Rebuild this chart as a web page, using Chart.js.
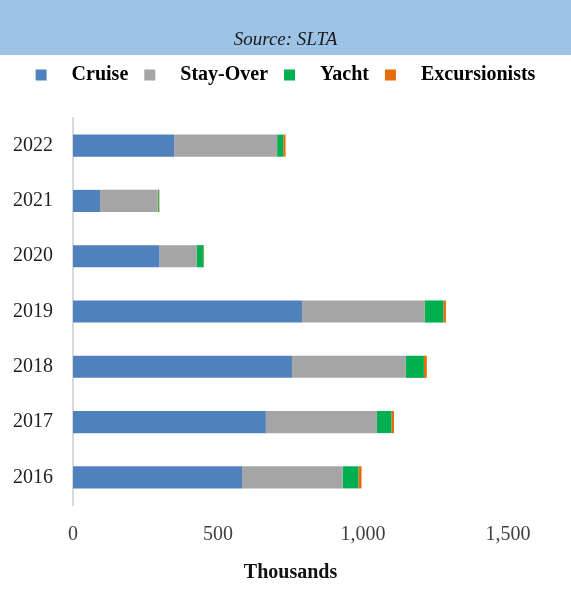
<!DOCTYPE html>
<html>
<head>
<meta charset="utf-8">
<style>
  html, body { margin: 0; padding: 0; background: #ffffff; }
  #wrap { width: 571px; height: 604px; }
</style>
<script src="https://cdn.jsdelivr.net/npm/chart.js@4/dist/chart.umd.min.js"></script>
</head>
<body>
<div id="wrap"><canvas id="c" width="571" height="604"></canvas></div>
<script>
// Visitor arrivals by year (thousands), stacked by visitor type
const years = ['2022', '2021', '2020', '2019', '2018', '2017', '2016'];
const cruise = [349, 93, 298, 790, 755, 665, 583];
const stayOver = [355, 199, 129, 422, 393, 383, 347];
const yacht = [21, 4, 23, 65, 62, 50, 54];
const excursionists = [8, 2, 2, 9, 10, 9, 11];
const seriesNames = ['Cruise', 'Stay-Over', 'Yacht', 'Excursionists'];
const seriesColors = ['#4F81BD', '#A5A5A5', '#00B050', '#E46C0A'];
const xTicks = [0, 500, 1000, 1500];

const SERIF = '"Liberation Serif", "Times New Roman", serif';

// Light blue header band behind the source note
const headerBand = {
  id: 'headerBand',
  beforeDraw(chart) {
    const ctx = chart.ctx;
    ctx.save();
    ctx.fillStyle = '#ffffff';
    ctx.fillRect(0, 0, chart.width, chart.height);
    ctx.fillStyle = '#9DC3E6';
    ctx.fillRect(0, 0, chart.width, 55);
    ctx.restore();
  }
};

const values = [cruise, stayOver, yacht, excursionists];
const datasets = seriesNames.map((name, i) => ({
  label: name,
  data: values[i],
  backgroundColor: seriesColors[i],
  borderWidth: 0,
  barPercentage: 0.8,
  categoryPercentage: 0.5
}));

new Chart(document.getElementById('c'), {
  type: 'bar',
  data: { labels: years, datasets },
  plugins: [headerBand],
  options: {
    indexAxis: 'y',
    responsive: false,
    animation: false,
    layout: { padding: { left: 0, right: 0, top: 0, bottom: 19 } },
    plugins: {
      title: {
        display: true,
        text: 'Source: SLTA',
        color: '#1a1a1a',
        font: { family: SERIF, size: 19, style: 'italic', weight: 'normal', lineHeight: 1 },
        padding: { top: 30, bottom: 0 }
      },
      subtitle: {
        display: true,
        text: '',
        weight: 500,
        font: { size: 1, lineHeight: 1 },
        padding: { top: 22, bottom: 0 }
      },
      legend: {
        display: true,
        position: 'top',
        labels: {
          color: '#111111',
          font: { family: SERIF, size: 20, weight: 'bold' },
          boxWidth: 11,
          boxHeight: 11,
          padding: 16,
          generateLabels(chart) {
            return chart.data.datasets.map((ds, i) => ({
              text: '   ' + ds.label,
              fillStyle: ds.backgroundColor,
              strokeStyle: ds.backgroundColor,
              lineWidth: 0,
              hidden: false,
              datasetIndex: i
            }));
          }
        }
      },
      tooltip: { enabled: false }
    },
    scales: {
      x: {
        stacked: true,
        min: 0,
        max: 1500,
        afterBuildTicks(scale) {
          scale.ticks = xTicks.map(v => ({ value: v }));
        },
        grid: { display: false, drawTicks: false },
        border: { display: false },
        ticks: {
          color: '#404040',
          font: { family: SERIF, size: 20 },
          padding: 18,
          maxRotation: 0,
          callback: v => Number(v).toLocaleString('en-US')
        },
        title: {
          display: true,
          text: 'Thousands',
          color: '#111111',
          font: { family: SERIF, size: 20, weight: 'bold' },
          padding: { top: -4, bottom: 0 }
        }
      },
      y: {
        stacked: true,
        afterFit(scale) { scale.width = 73; },
        grid: { display: false, drawTicks: false },
        border: { display: true, color: '#D9D9D9', width: 2 },
        ticks: {
          color: '#1f1f1f',
          font: { family: SERIF, size: 20 },
          padding: 20
        }
      },
      // empty right-hand margin so the value axis ends at 1,500 well inside the frame
      margin: {
        type: 'linear',
        axis: 'y',
        position: 'right',
        display: true,
        afterFit(scale) { scale.width = 63; },
        grid: { display: false, drawTicks: false },
        border: { display: false },
        ticks: { display: false }
      }
    }
  }
});
</script>
</body>
</html>
